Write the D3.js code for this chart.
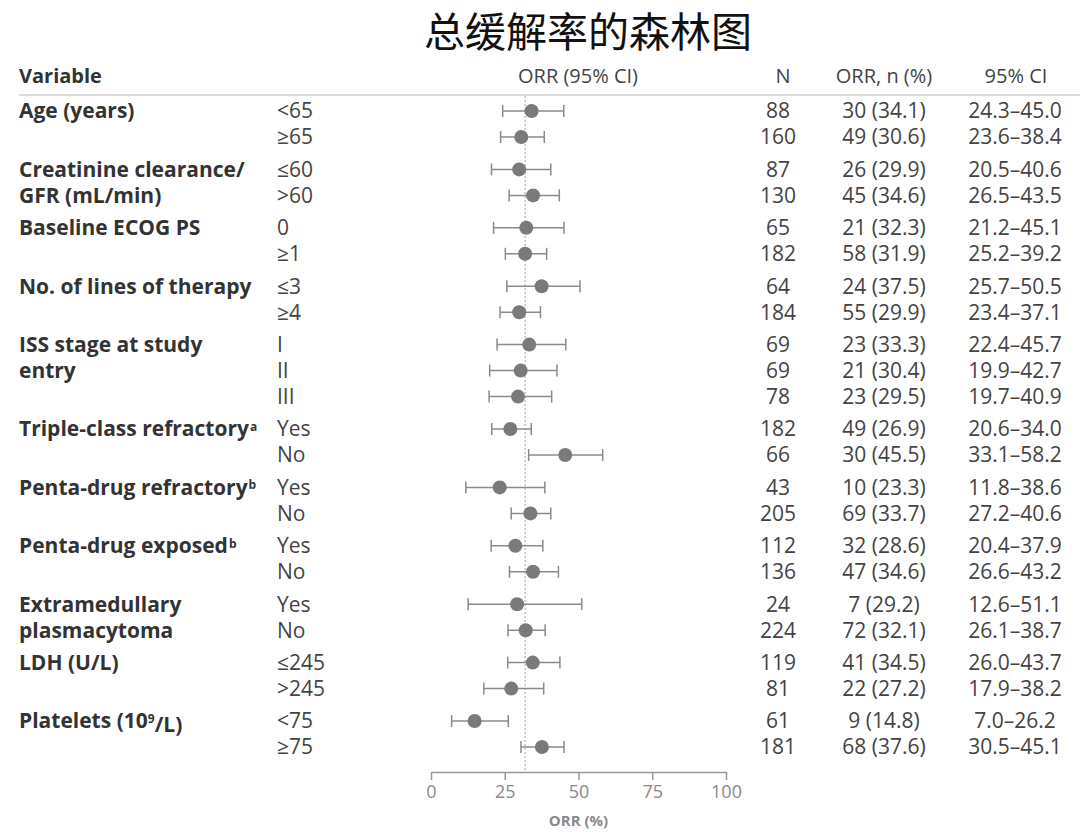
<!DOCTYPE html>
<html>
<head>
<meta charset="utf-8">
<script src="https://cdn.jsdelivr.net/npm/d3@7"></script>
<style>
  body { margin: 0; background: #fff; }
  text { font-family: "Open Sans", "Noto Sans", sans-serif; }
</style>
</head>
<body>
<div id="chart"></div>
<script>
// 分组与数据
const variables = [
  ["Age (years)"],
  ["Creatinine clearance/", "GFR (mL/min)"],
  ["Baseline ECOG PS"],
  ["No. of lines of therapy"],
  ["ISS stage at study", "entry"],
  ["Triple-class refractory", "a"],
  ["Penta-drug refractory", "b"],
  ["Penta-drug exposed", "b"],
  ["Extramedullary", "plasmacytoma"],
  ["LDH (U/L)"],
  ["Platelets (10", "9", "/L)"]
];
const groupOf   = [0, 0, 1, 1, 2, 2, 3, 3, 4, 4, 4, 5, 5, 6, 6, 7, 7, 8, 8, 9, 9, 10, 10];
const subgroups = ["<65", "≥65", "≤60", ">60", "0", "≥1", "≤3", "≥4", "I", "II", "III",
                   "Yes", "No", "Yes", "No", "Yes", "No", "Yes", "No", "≤245", ">245", "<75", "≥75"];
const nValues   = [88, 160, 87, 130, 65, 182, 64, 184, 69, 69, 78, 182, 66, 43, 205, 112, 136, 24, 224, 119, 81, 61, 181];
const responders= [30, 49, 26, 45, 21, 58, 24, 55, 23, 21, 23, 49, 30, 10, 69, 32, 47, 7, 72, 41, 22, 9, 68];
const orr       = [34.1, 30.6, 29.9, 34.6, 32.3, 31.9, 37.5, 29.9, 33.3, 30.4, 29.5, 26.9, 45.5, 23.3, 33.7, 28.6, 34.6, 29.2, 32.1, 34.5, 27.2, 14.8, 37.6];
const ciLow     = [24.3, 23.6, 20.5, 26.5, 21.2, 25.2, 25.7, 23.4, 22.4, 19.9, 19.7, 20.6, 33.1, 11.8, 27.2, 20.4, 26.6, 12.6, 26.1, 26.0, 17.9, 7.0, 30.5];
const ciHigh    = [45.0, 38.4, 40.6, 43.5, 45.1, 39.2, 50.5, 37.1, 45.7, 42.7, 40.9, 34.0, 58.2, 38.6, 40.6, 37.9, 43.2, 51.1, 38.7, 43.7, 38.2, 26.2, 45.1];
const overallOrr = 31.9;
const xTicks = [0, 25, 50, 75, 100];

const width = 1080, height = 832;
const svg = d3.select("#chart").append("svg")
  .attr("width", width).attr("height", height);

const x = d3.scaleLinear().domain([0, 100]).range([431, 726]);
// 行位置：行序号 + 组间额外间距
const groupGap = 0.246;
const slot = (i) => i + groupOf[i] * groupGap;
const y = d3.scaleLinear().domain([0, slot(22)]).range([111, 747]);

const labelCol = "#333";
const textCol = "#444";
const markCol = "#7a7a7a";
const fs = "21px";

// 标题
svg.append("text")
  .attr("x", 588).attr("y", 47)
  .attr("text-anchor", "middle")
  .style("font-family", "'Noto Sans CJK SC', sans-serif")
  .style("font-weight", "normal")
  .style("font-size", "41px")
  .attr("fill", "#111")
  .text("总缓解率的森林图");

// 表头
const header = svg.append("g").attr("fill", textCol).style("font-size", "20px");
header.append("text").attr("x", 19).attr("y", 83).attr("fill", labelCol).style("font-weight", "bold").text("Variable");
header.append("text").attr("x", 578).attr("y", 83).attr("text-anchor", "middle").text("ORR (95% CI)");
header.append("text").attr("x", 783).attr("y", 83).attr("text-anchor", "middle").text("N");
header.append("text").attr("x", 884).attr("y", 83).attr("text-anchor", "middle").text("ORR, n (%)");
header.append("text").attr("x", 1016).attr("y", 83).attr("text-anchor", "middle").text("95% CI");

svg.append("line")
  .attr("x1", 19).attr("x2", 1080).attr("y1", 95).attr("y2", 95)
  .attr("stroke", "#dcdcdc").attr("stroke-width", 2);

// 总体参考线
svg.append("line")
  .attr("x1", x(overallOrr)).attr("x2", x(overallOrr))
  .attr("y1", 96).attr("y2", 772)
  .attr("stroke", "#a0a0a0").attr("stroke-width", 1)
  .attr("stroke-dasharray", "2,2");

// 变量名（第一行落在组首行，第二行落在下一行）
const firstRow = variables.map((v, g) => groupOf.indexOf(g));
variables.forEach((v, g) => {
  const r = firstRow[g];
  const t = svg.append("text")
    .attr("x", 19).attr("y", y(slot(r))).attr("dy", "0.35em")
    .attr("fill", labelCol).style("font-weight", "bold").style("font-size", fs);
  if (g === 5 || g === 6 || g === 7) {
    t.append("tspan").text(v[0]);
    t.append("tspan").attr("dx", 1).attr("dy", "-0.45em").style("font-size", "12px").text(v[1]);
  } else if (g === 10) {
    t.append("tspan").text(v[0]);
    t.append("tspan").attr("dy", "-0.45em").style("font-size", "12px").text(v[1]);
    t.append("tspan").attr("dy", "0.45em").text(v[2]);
  } else {
    t.text(v[0]);
    if (v.length > 1) {
      svg.append("text")
        .attr("x", 19).attr("y", y(slot(r + 1))).attr("dy", "0.35em")
        .attr("fill", labelCol).style("font-weight", "bold").style("font-size", fs)
        .text(v[1]);
    }
  }
});

// 每行
const rows = svg.selectAll(".row")
  .data(d3.range(subgroups.length))
  .enter().append("g")
  .attr("class", "row")
  .attr("transform", i => `translate(0, ${y(slot(i))})`);

rows.append("text").attr("x", 277).attr("dy", "0.35em")
  .attr("fill", textCol).style("font-size", fs).text(i => subgroups[i]);
rows.append("text").attr("x", 778).attr("dy", "0.35em").attr("text-anchor", "middle")
  .attr("fill", textCol).style("font-size", fs).text(i => nValues[i]);
rows.append("text").attr("x", 884).attr("dy", "0.35em").attr("text-anchor", "middle")
  .attr("fill", textCol).style("font-size", fs)
  .text(i => `${responders[i]} (${orr[i].toFixed(1)})`);
rows.append("text").attr("x", 1015).attr("dy", "0.35em").attr("text-anchor", "middle")
  .attr("fill", textCol).style("font-size", fs)
  .text(i => `${ciLow[i].toFixed(1)}–${ciHigh[i].toFixed(1)}`);

// 误差线
rows.append("line")
  .attr("x1", i => x(ciLow[i])).attr("x2", i => x(ciHigh[i]))
  .attr("stroke", "#8a8a8a").attr("stroke-width", 1.5);
rows.append("line")
  .attr("x1", i => x(ciLow[i])).attr("x2", i => x(ciLow[i]))
  .attr("y1", -6).attr("y2", 6)
  .attr("stroke", "#8a8a8a").attr("stroke-width", 1.5);
rows.append("line")
  .attr("x1", i => x(ciHigh[i])).attr("x2", i => x(ciHigh[i]))
  .attr("y1", -6).attr("y2", 6)
  .attr("stroke", "#8a8a8a").attr("stroke-width", 1.5);
rows.append("circle")
  .attr("cx", i => x(orr[i])).attr("r", 7)
  .attr("fill", markCol);

// 坐标轴
const axis = svg.append("g")
  .attr("transform", "translate(0, 772)")
  .call(d3.axisBottom(x).tickValues(xTicks).tickSize(8).tickSizeOuter(0).tickPadding(5));
axis.select(".domain").attr("stroke", "#999").attr("stroke-width", 1.5);
axis.selectAll(".tick line").attr("stroke", "#999").attr("stroke-width", 1.5);
axis.selectAll(".tick text")
  .attr("fill", "#8a8a8a")
  .style("font-family", "'Open Sans', sans-serif")
  .style("font-size", "18px");

svg.append("text")
  .attr("x", x(50)).attr("y", 826)
  .attr("text-anchor", "middle")
  .attr("fill", "#8a8a8a")
  .style("font-weight", "bold").style("font-size", "15px")
  .text("ORR (%)");
</script>
</body>
</html>
